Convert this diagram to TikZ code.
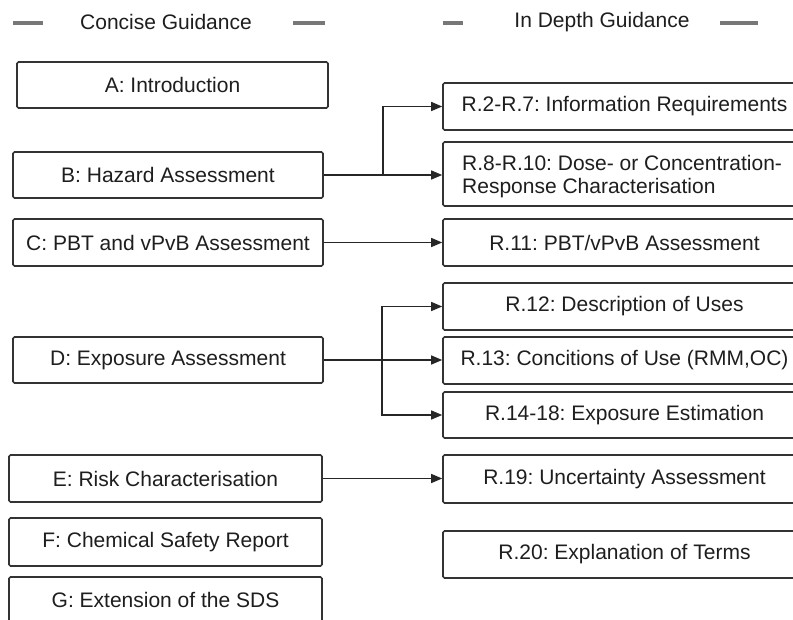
\documentclass[tikz,border=0pt]{standalone}
\usepackage{fontspec}
\setmainfont{Liberation Sans}
\frenchspacing
\usetikzlibrary{arrows.meta}
\definecolor{boxline}{HTML}{333333}
\definecolor{txt}{HTML}{1E1E1E}
\definecolor{dashgray}{HTML}{777777}
\tikzset{
  gbox/.style={draw=boxline, line width=1.6pt, rounded corners=1.5pt, fill=white,
    text=txt, font=\fontsize{21}{24}\selectfont, inner sep=0pt, anchor=center},
  lbox/.style={gbox, minimum width=310pt, minimum height=46pt},
  rbox/.style={gbox, minimum width=363pt, minimum height=47pt},
  stem/.style={draw=black!85, line width=2.2pt},
  branch/.style={draw=black!85, line width=1.4pt, -{Triangle[length=11pt,width=9pt]}},
  hdash/.style={draw=dashgray, line width=4pt},
  htext/.style={text=txt, font=\fontsize{21}{24}\selectfont, inner sep=0pt}
}
\begin{document}
\begin{tikzpicture}[x=1pt,y=-1pt]
\useasboundingbox (0,0) rectangle (793,620);
\clip (0,0) rectangle (793,620);
\fill[white] (0,0) rectangle (793,620);

% headers
\draw[hdash] (13,23) -- (43,23);
\draw[hdash] (293,23) -- (325,23);
\node[htext] (hc) at (166,22) {Concise Guidance};
\draw[hdash] (443,23) -- (463,23);
\draw[hdash] (720,23) -- (758,23);
\node[htext] (hd) at (602,22) {In Depth Guidance};

% left column
\node[lbox, minimum width=311pt] (A) at (172.5,85) {A: Introduction};
\node[lbox] (B) at (168,175) {B: Hazard Assessment};
\node[lbox, minimum height=47pt] (C) at (168,242.5) {C: PBT and vPvB Assessment};
\node[lbox] (D) at (168,360) {D: Exposure Assessment};
\node[lbox, minimum width=313pt, minimum height=47pt] (E) at (165.5,478.5) {E: Risk Characterisation};
\node[lbox, minimum width=313pt, minimum height=48pt] (F) at (165.5,542) {F: Chemical Safety Report};
\node[lbox, minimum width=313pt] (G) at (165.5,600) {G: Extension of the SDS};

% right column
\node[rbox] (R27) at (624.5,106.5) {R.2-R.7: Information Requirements};
\node[rbox, minimum height=64pt] (R810) at (624.5,174) {};
\node[htext, anchor=west, align=left, font=\fontsize{21}{23}\selectfont] (R810t) at (462,176.5)
  {R.8-R.10: Dose- or Concentration-\\Response Characterisation};
\node[rbox] (R11) at (624.5,242.5) {R.11: PBT/vPvB Assessment};
\node[rbox] (R12) at (624.5,306.5) {R.12: Description of Uses};
\node[rbox] (R13) at (624.5,360.5) {R.13: Concitions of Use (RMM,OC)};
\node[rbox, minimum height=46pt] (R14) at (624.5,415) {R.14-18: Exposure Estimation};
\node[rbox, minimum height=48pt] (R19) at (624.5,479) {R.19: Uncertainty Assessment};
\node[rbox] (R20) at (624.5,554.5) {R.20: Explanation of Terms};

% connectors
\coordinate (jB) at (383,175);
\draw[stem] (B.east) -- (jB);
\draw[branch] (jB) |- (R27.west);
\draw[branch] (jB) -- (R810.west |- jB);

\draw[branch] (C.east) -- (R11.west |- C.east);

\coordinate (jD) at (382,360);
\draw[stem] (D.east) -- (jD);
\draw[branch] (jD) |- (R12.west);
\draw[branch] (jD) -- (R13.west |- jD);
\draw[branch] (jD) |- (R14.west);

\draw[branch] (E.east) -- (R19.west |- E.east);
\end{tikzpicture}
\end{document}
